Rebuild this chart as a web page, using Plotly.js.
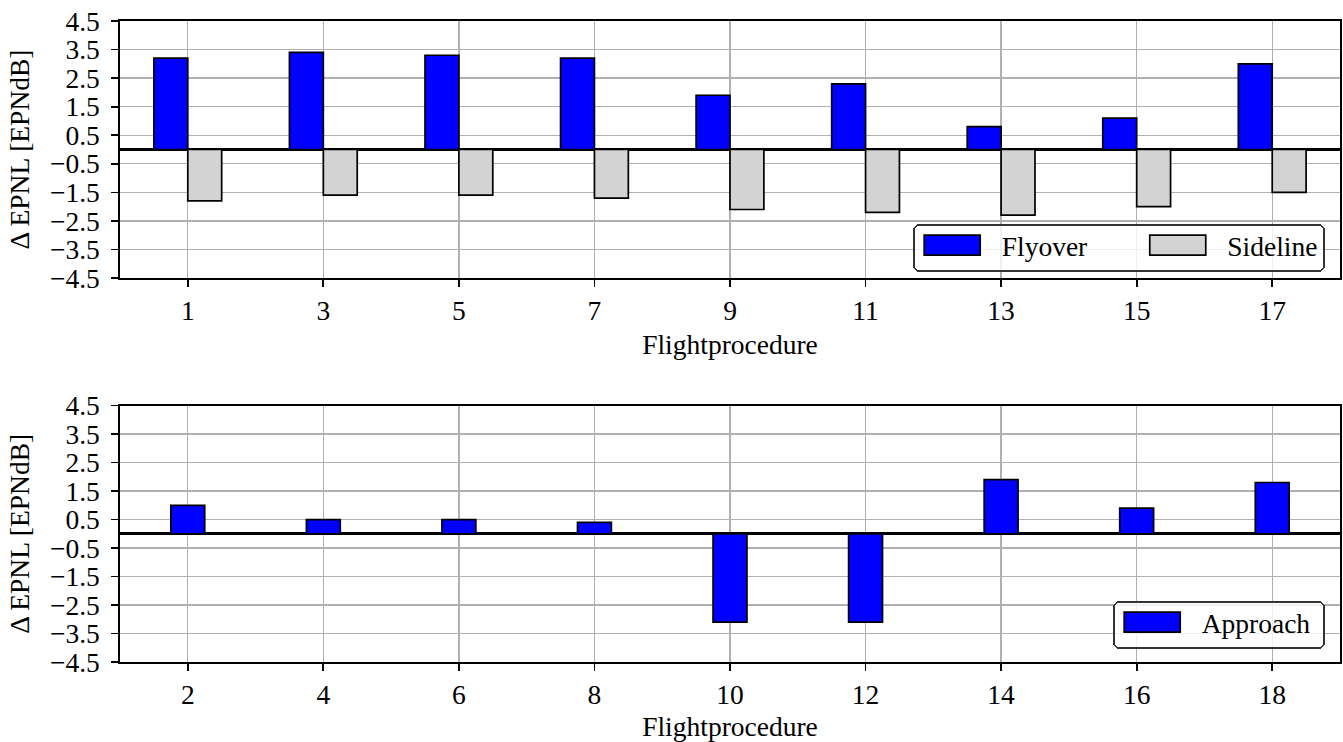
<!DOCTYPE html>
<html><head><meta charset="utf-8">
<script src="https://cdn.plot.ly/plotly-3.0.1.min.js"></script>
<style>html,body{margin:0;padding:0;background:#fff}</style>
</head><body><div id="chart" style="width:1343px;height:742px"></div>
<script>
const flyoverProcedures = [1,3,5,7,9,11,13,15,17];
const flyoverValues = [3.2,3.4,3.3,3.2,1.9,2.3,0.8,1.1,3.0];
const sidelineValues = [-1.8,-1.6,-1.6,-1.7,-2.1,-2.2,-2.3,-2.0,-1.5];
const approachProcedures = [2,4,6,8,10,12,14,16,18];
const approachValues = [1.0,0.5,0.5,0.4,-3.1,-3.1,1.9,0.9,1.8];
const yTickValues = [-4.5,-3.5,-2.5,-1.5,-0.5,0.5,1.5,2.5,3.5,4.5];
const yTickLabels = ['\u22124.5','\u22123.5','\u22122.5','\u22121.5','\u22120.5','0.5','1.5','2.5','3.5','4.5'];
const xTitle = 'Flightprocedure';
const yTitle = '\u0394 EPNL [EPNdB]';

const FONT = '"Liberation Serif", "Times New Roman", Times, serif';
const FS = 27.5;
const barLine = {color:'#000', width:1.7};

const traces = [
  {type:'bar', name:'Flyover', x:flyoverProcedures, y:flyoverValues, width:0.5, offset:-0.5,
   marker:{color:'#0000ff', line:barLine}, xaxis:'x', yaxis:'y', legend:'legend'},
  {type:'bar', name:'Sideline', x:flyoverProcedures, y:sidelineValues, width:0.5, offset:0,
   marker:{color:'#d3d3d3', line:barLine}, xaxis:'x', yaxis:'y', legend:'legend'},
  {type:'bar', name:'Approach', x:approachProcedures, y:approachValues, width:0.5, offset:-0.25,
   marker:{color:'#0000ff', line:barLine}, xaxis:'x2', yaxis:'y2', legend:'legend2'}
];

function xAxis(range, ticks, anchor){
  return {range:range, anchor:anchor, domain:[0,1], tickmode:'array', tickvals:ticks,
    ticks:'outside', ticklen:7, tickwidth:1.7, tickcolor:'#000',
    showgrid:true, gridcolor:'#b0b0b0', gridwidth:1.3,
    showline:true, linecolor:'#000', linewidth:1.7, mirror:true, zeroline:false,
    tickfont:{family:FONT, size:FS, color:'#000'},
    title:{text:xTitle, font:{family:FONT, size:FS, color:'#000'}, standoff:10},
    automargin:false, fixedrange:true};
}
function yAxis(domain, anchor){
  return {range:[-4.5,4.5], domain:domain, anchor:anchor, tickmode:'array',
    tickvals:yTickValues, ticktext:yTickLabels,
    ticks:'outside', ticklen:7, tickwidth:1.7, tickcolor:'#000', ticklabelstandoff:6,
    showgrid:true, gridcolor:'#b0b0b0', gridwidth:1.3,
    showline:true, linecolor:'#000', linewidth:1.7, mirror:true,
    zeroline:true, zerolinecolor:'#000', zerolinewidth:3,
    tickfont:{family:FONT, size:FS, color:'#000'},
    title:{text:yTitle, font:{family:FONT, size:FS, color:'#000'}, standoff:12},
    automargin:false, fixedrange:true};
}

const legendStyle = {orientation:'h', xanchor:'right', yanchor:'bottom',
  bgcolor:'rgba(255,255,255,0.8)', bordercolor:'#333', borderwidth:1.7,
  itemwidth:77,
  font:{family:FONT, size:FS, color:'#000'}};

const layout = {
  width:1343, height:742,
  margin:{l:120, r:3, t:21, b:80},
  paper_bgcolor:'#fff', plot_bgcolor:'#fff',
  font:{family:FONT, size:FS, color:'#000'},
  barmode:'overlay', bargap:0,
  showlegend:true,
  xaxis: xAxis([0,18], flyoverProcedures, 'y'),
  yaxis: yAxis([0.599,1], 'x'),
  xaxis2: xAxis([1,19], approachProcedures, 'y2'),
  yaxis2: yAxis([0,0.4], 'x2'),
  legend: Object.assign({}, legendStyle, {x:0.9877, y:0.6084}),
  legend2: Object.assign({}, legendStyle, {x:0.9877, y:0.0203})
};

function num(el, a){ return parseFloat(el.getAttribute(a) || '0'); }
function tweakLegend(gd, id, shift, trimTop){
  var g = gd.querySelector('.infolayer > g.' + id);
  if(!g) return;
  var bg = g.querySelector('rect.bg');
  if(bg){
    bg.setAttribute('rx', 6); bg.setAttribute('ry', 6);
    bg.setAttribute('x', num(bg,'x') - shift);
    bg.setAttribute('width', num(bg,'width') + shift);
    bg.setAttribute('y', num(bg,'y') + trimTop);
    bg.setAttribute('height', num(bg,'height') - trimTop);
  }
  var sb = g.querySelector('.scrollbox');
  if(sb) sb.removeAttribute('clip-path');
  var items = g.querySelectorAll('g.traces');
  if(items.length && shift){
    var t = items[0].getAttribute('transform') || '';
    var m = t.match(/translate\(\s*([-\d.e]+)[ ,]+([-\d.e]+)\s*\)/);
    if(m){ items[0].setAttribute('transform', 'translate(' + (parseFloat(m[1]) - shift) + ',' + m[2] + ')'); }
  }
}

Plotly.newPlot('chart', traces, layout, {displayModeBar:false, staticPlot:true}).then(function(gd){
  gd.querySelectorAll('.legendpoints path').forEach(function(p){
    p.setAttribute('d', 'M22,10H-34V-10H22Z');
  });
  tweakLegend(gd, 'legend', 48, 5);
  tweakLegend(gd, 'legend2', 7, 5);
});
</script></body></html>
